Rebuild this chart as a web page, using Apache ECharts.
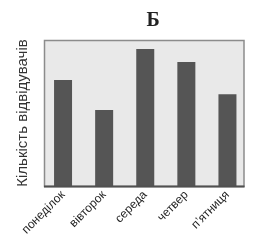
<!DOCTYPE html>
<html><head><meta charset="utf-8">
<script src="https://cdn.jsdelivr.net/npm/echarts@6/dist/echarts.min.js"></script>
<style>html,body{margin:0;padding:0;background:#fff}#c{width:279px;height:250px}</style>
</head><body><div id="c"></div>
<script>
const title = 'Б';
const yName = 'Кількість відвідувачів';
const categories = ['понеділок', 'вівторок', 'середа', 'четвер', 'п’ятниця'];
const values = [72.6, 52, 93.8, 85, 62.8];
const yMax = 100;

const chart = echarts.init(document.getElementById('c'), null, {renderer: 'canvas'});
chart.setOption({
  animation: false,
  title: {text: title, left: 148, top: 6, textAlign: 'center',
    textStyle: {fontFamily: 'Liberation Serif', fontWeight: 'bold', fontSize: 20, color: '#222'}},
  graphic: [
    {type: 'rect', z: -10, shape: {x: 44.5, y: 40.5, width: 199.5, height: 146},
      style: {fill: '#e9e9e9', stroke: '#8c8c8c', lineWidth: 1.5}},
    {type: 'line', z: 10, shape: {x1: 44, y1: 186.5, x2: 244.5, y2: 186.5},
      style: {stroke: '#505050', lineWidth: 2}}
  ],
  grid: {left: 42.5, right: 31, top: 40, bottom: 64},
  xAxis: {type: 'category', data: categories, boundaryGap: true,
    axisLine: {show: false}, axisTick: {show: false},
    axisLabel: {rotate: 45, fontFamily: 'Liberation Sans Narrow, Liberation Sans', fontSize: 12, color: '#222', margin: 7, interval: 0}},
  yAxis: {type: 'value', min: 0, max: yMax, name: yName, nameLocation: 'middle', nameGap: 12,
    nameTextStyle: {fontFamily: 'Liberation Sans', fontSize: 15, color: '#333'},
    axisLine: {show: false}, axisTick: {show: false}, axisLabel: {show: false}, splitLine: {show: false}},
  series: [{type: 'bar', data: values, barWidth: 18, itemStyle: {color: '#555555'}, silent: true}]
});
</script></body></html>
